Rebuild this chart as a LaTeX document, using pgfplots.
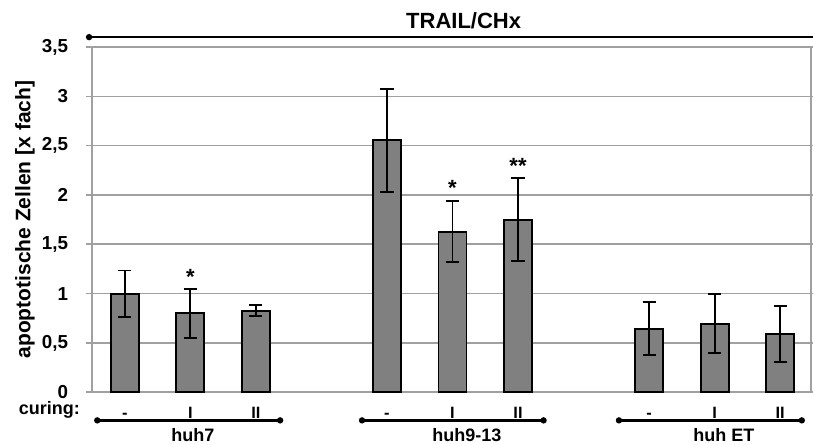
\documentclass[border=0pt]{standalone}
\usepackage{fontspec}
\setmainfont{Liberation Sans}
\usepackage{pgfplots}
\pgfplotsset{compat=1.18}
\definecolor{barfill}{RGB}{128,128,128}
\definecolor{gridc}{RGB}{160,160,160}
\pgfplotstableread{
x y e
0 1.00 0.235
1 0.80 0.25
2 0.827 0.055
4 2.553 0.52
5 1.627 0.31
6 1.75 0.42
8 0.645 0.27
9 0.695 0.30
10 0.59 0.285
}\datatable
\begin{document}
\begin{tikzpicture}
\begin{axis}[
  scale only axis, width=359.5pt, height=172.65pt,
  xmin=-0.5, xmax=10.47, ymin=0, ymax=3.5,
  clip=false,
  axis line style={gridc, line width=0.8pt},
  ytick={0,0.5,...,3.5},
  yticklabels={0,{0,5},1,{1,5},2,{2,5},3,{3,5}},
  ymajorgrids, grid style={gridc, line width=0.8pt},
  ytick style={gridc, line width=0.8pt}, tick align=outside, major tick length=3pt,
  xtick={0,1,2,4,5,6,8,9,10}, xticklabels={-,I,II,-,I,II,-,I,II},
  xtick style={draw=none},
  yticklabel style={font=\fontsize{9.4}{11}\selectfont\bfseries, inner sep=0.8pt, xshift=-8pt},
  xticklabel style={font=\fontsize{8.2}{10}\selectfont\bfseries, anchor=base, yshift=-10.2pt},
  ylabel={apoptotische Zellen [x fach]},
  ylabel style={font=\fontsize{10.5}{11}\selectfont\bfseries, at={(axis description cs:-0.0932,0.5)}, anchor=center},
]
\addplot[ybar, bar width=14pt, bar shift=0pt, fill=barfill, draw=black, line width=0.95pt,
  error bars/.cd, y dir=both, y explicit,
  error bar style={line width=0.9pt, black},
  error mark options={line width=0.9pt, black, mark size=3.3pt, rotate=90}]
  table[x=x, y=y, y error=e]{\datatable};
\node[font=\fontsize{11}{12}\selectfont\bfseries] at (axis cs:1,1.17) {*};
\node[font=\fontsize{11}{12}\selectfont\bfseries] at (axis cs:5,2.07) {*};
\node[font=\fontsize{11}{12}\selectfont\bfseries] at (axis cs:6,2.29) {**};
\draw[line width=1.3pt] (axis cs:-0.545,3.6) -- (axis cs:10.52,3.6);
\fill (axis cs:-0.545,3.6) circle (1.6pt);
\node[font=\fontsize{11}{12}\selectfont\bfseries] at (axis cs:5.17,3.77) {TRAIL/CHx};
\node[anchor=base east, inner sep=0pt, font=\fontsize{9}{11}\selectfont\bfseries] at (axis cs:-0.68,-0.226) {curing:};
\draw[line width=1.2pt] (axis cs:-0.42,-0.285) -- (axis cs:2.37,-0.285);
\fill (axis cs:-0.42,-0.285) circle (1.6pt); \fill (axis cs:2.37,-0.285) circle (1.6pt);
\draw[line width=1.2pt] (axis cs:3.62,-0.285) -- (axis cs:6.39,-0.285);
\fill (axis cs:3.62,-0.285) circle (1.6pt); \fill (axis cs:6.39,-0.285) circle (1.6pt);
\draw[line width=1.2pt] (axis cs:7.54,-0.285) -- (axis cs:10.33,-0.285);
\fill (axis cs:7.54,-0.285) circle (1.6pt); \fill (axis cs:10.33,-0.285) circle (1.6pt);
\node[anchor=base, inner sep=0pt, font=\fontsize{9}{11}\selectfont\bfseries] at (axis cs:1.04,-0.50) {huh7};
\node[anchor=base, inner sep=0pt, font=\fontsize{9}{11}\selectfont\bfseries] at (axis cs:5.22,-0.50) {huh9-13};
\node[anchor=base, inner sep=0pt, font=\fontsize{9}{11}\selectfont\bfseries] at (axis cs:9.14,-0.50) {huh ET};
\coordinate (bbA) at (rel axis cs:-0.128,1.1361);
\coordinate (bbB) at (rel axis cs:1.0028,-0.1526);
\end{axis}
\pgfresetboundingbox
\path (bbA) rectangle (bbB);
\end{tikzpicture}
\end{document}
